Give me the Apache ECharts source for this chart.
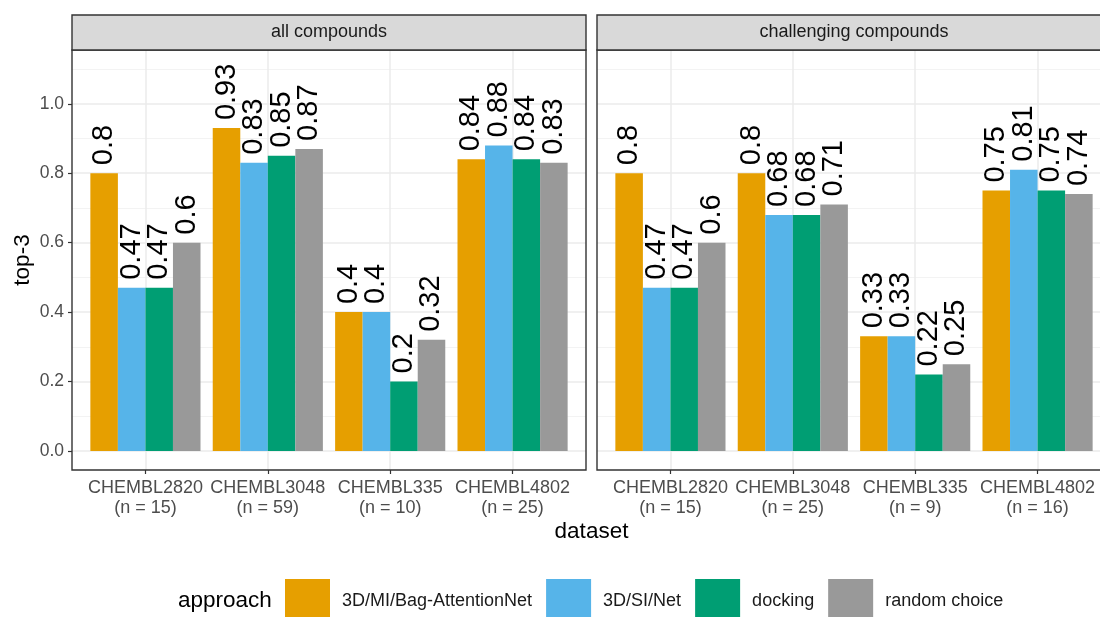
<!DOCTYPE html>
<html><head><meta charset="utf-8">
<script src="https://cdn.jsdelivr.net/npm/echarts@6/dist/echarts.min.js"></script>
<style>html,body{margin:0;padding:0;background:#fff}#c{width:1100px;height:617px}</style>
</head><body><div id="c"></div>
<script>
// ---- data ----
const datasets = ['CHEMBL2820', 'CHEMBL3048', 'CHEMBL335', 'CHEMBL4802'];
const facets = ['all compounds', 'challenging compounds'];
const nAll = [15, 59, 10, 25];
const nChallenging = [15, 25, 9, 16];
const approaches = ['3D/MI/Bag-AttentionNet', '3D/SI/Net', 'docking', 'random choice'];
const allBagAttention = [0.8, 0.93, 0.4, 0.84];
const allSINet = [0.47, 0.83, 0.4, 0.88];
const allDocking = [0.47, 0.85, 0.2, 0.84];
const allRandom = [0.6, 0.87, 0.32, 0.83];
const chBagAttention = [0.8, 0.8, 0.33, 0.75];
const chSINet = [0.47, 0.68, 0.33, 0.81];
const chDocking = [0.47, 0.68, 0.22, 0.75];
const chRandom = [0.6, 0.71, 0.25, 0.74];
const yTickLabels = ['0.0', '0.2', '0.4', '0.6', '0.8', '1.0'];

// ---- style / layout ----
const colors = ['#E69F00', '#56B4E9', '#009E73', '#999999'];
const FONT = 'Liberation Sans, Arial, sans-serif';
const PANEL_LEFT = [72, 597], PANEL_W = 514, PANEL_TOP = 50, PANEL_H = 420;
const STRIP_TOP = 15, STRIP_H = 35;
const Y_MIN = -0.055, Y_MAX = 1.155;
const ux = PANEL_W / 4.2;
const py = PANEL_H / (Y_MAX - Y_MIN);
const yPix = v => PANEL_TOP + (Y_MAX - v) * py;

const panelSeries = [
  [allBagAttention, allSINet, allDocking, allRandom],
  [chBagAttention, chSINet, chDocking, chRandom]
];
const panelN = [nAll, nChallenging];

const grid = [], xAxis = [], yAxis = [], series = [];
const hidden = (g) => ({ type: 'value', gridIndex: g, show: false, min: 0, max: 1 });
const noAxisParts = { axisLine: { show: false }, axisTick: { show: false }, axisLabel: { show: false } };
const gridBase = { outerBoundsMode: 'none', containLabel: false };

for (let p = 0; p < 2; p++) {
  const L = PANEL_LEFT[p];
  const b = grid.length;
  // 0 frame
  grid.push(Object.assign({ left: L, top: PANEL_TOP, width: PANEL_W, height: PANEL_H, show: true,
    backgroundColor: 'transparent', borderColor: '#333333', borderWidth: 1.4, z: 10 }, gridBase));
  xAxis.push(hidden(b)); yAxis.push(hidden(b));
  // 1 strip
  grid.push(Object.assign({ left: L, top: STRIP_TOP, width: PANEL_W, height: STRIP_H, show: true,
    backgroundColor: '#D9D9D9', borderColor: '#333333', borderWidth: 1.4, z: 10 }, gridBase));
  xAxis.push(hidden(b + 1)); yAxis.push(hidden(b + 1));
  // 2 minor horizontal grid lines (0.1 ... 1.1)
  grid.push(Object.assign({ left: L, top: yPix(1.1), width: PANEL_W, height: py }, gridBase));
  xAxis.push(hidden(b + 2));
  yAxis.push(Object.assign({ type: 'value', gridIndex: b + 2, min: 0, max: 1, interval: 0.2,
    splitLine: { show: true, lineStyle: { color: '#F0F0F0', width: 0.8 } } }, noAxisParts));
  // 3 major horizontal grid lines + labels
  grid.push(Object.assign({ left: L, top: yPix(1.0), width: PANEL_W, height: py }, gridBase));
  xAxis.push(hidden(b + 3));
  yAxis.push({ type: 'value', gridIndex: b + 3, min: 0, max: 1, interval: 0.2,
    axisLine: { show: false },
    axisTick: { show: p === 0, length: 4, lineStyle: { color: '#333333', width: 1.2 } },
    axisLabel: { show: p === 0, margin: 8, color: '#4D4D4D', fontSize: 17.5, fontFamily: FONT,
      formatter: (v) => yTickLabels[Math.round(v * 5)] },
    splitLine: { show: true, lineStyle: { color: '#EBEBEB', width: 1.5 } } });
  // 4 vertical grid lines at category centres
  grid.push(Object.assign({ left: L + 0.6 * ux, top: PANEL_TOP, width: 3 * ux, height: PANEL_H }, gridBase));
  xAxis.push(Object.assign({ type: 'value', gridIndex: b + 4, min: 0, max: 3, interval: 1,
    splitLine: { show: true, lineStyle: { color: '#EBEBEB', width: 1.5 } } }, noAxisParts));
  yAxis.push(hidden(b + 4));
  // 5 data (from y = 1.0 down to panel bottom)
  grid.push(Object.assign({ left: L + 0.1 * ux, top: yPix(1.0), width: 4 * ux,
    height: (PANEL_TOP + PANEL_H) - yPix(1.0) }, gridBase));
  xAxis.push({ type: 'category', gridIndex: b + 5, position: 'bottom',
    data: datasets.map((d, i) => d + '\n(n = ' + panelN[p][i] + ')'),
    axisLine: { show: false, onZero: false },
    axisTick: { show: true, alignWithLabel: true, length: 4, lineStyle: { color: '#333333', width: 1.2 } },
    axisLabel: { interval: 0, margin: 8, color: '#4D4D4D', fontSize: 18, lineHeight: 20, fontFamily: FONT },
    splitLine: { show: false } });
  yAxis.push({ type: 'value', gridIndex: b + 5, show: false, min: Y_MIN, max: 1 });

  panelSeries[p].forEach((vals, k) => {
    series.push({
      type: 'bar', name: approaches[k], xAxisIndex: b + 5, yAxisIndex: b + 5,
      data: vals, barGap: '0%', barCategoryGap: '10%',
      itemStyle: { color: colors[k] },
      emphasis: { disabled: true },
      label: { show: true, position: 'top', rotate: 90, align: 'left', verticalAlign: 'middle',
        distance: 8, fontSize: 29, color: '#000000', fontFamily: FONT }
    });
  });
}

const texts = [];
facets.forEach((f, p) => {
  texts.push({ type: 'text', x: PANEL_LEFT[p] + PANEL_W / 2, y: STRIP_TOP + STRIP_H / 2, z: 100,
    style: { text: f, fill: '#1A1A1A', font: '18px ' + FONT, align: 'center', verticalAlign: 'middle' } });
});
texts.push({ type: 'text', x: (PANEL_LEFT[0] + PANEL_LEFT[1] + PANEL_W) / 2, y: 532, z: 100,
  style: { text: 'dataset', fill: '#000', font: '22.5px ' + FONT, align: 'center', verticalAlign: 'middle' } });
texts.push({ type: 'text', x: 23, y: PANEL_TOP + PANEL_H / 2, rotation: Math.PI / 2, z: 100,
  style: { text: 'top-3', fill: '#000', font: '22.5px ' + FONT, align: 'center', verticalAlign: 'middle' } });
texts.push({ type: 'text', x: 178, y: 601, z: 100,
  style: { text: 'approach', fill: '#000', font: '22.5px ' + FONT, align: 'left', verticalAlign: 'middle' } });

const chart = echarts.init(document.getElementById('c'), null, { renderer: 'canvas' });
chart.setOption({
  animation: false,
  backgroundColor: '#ffffff',
  textStyle: { fontFamily: FONT },
  grid, xAxis, yAxis, series,
  legend: { data: approaches, left: 285, top: 579, padding: 0, itemWidth: 45, itemHeight: 45, itemGap: 14,
    icon: 'rect', selectedMode: false,
    textStyle: { fontSize: 18, color: '#1A1A1A', fontFamily: FONT, padding: [0, 0, 0, 7] } },
  graphic: texts
});
</script></body></html>
